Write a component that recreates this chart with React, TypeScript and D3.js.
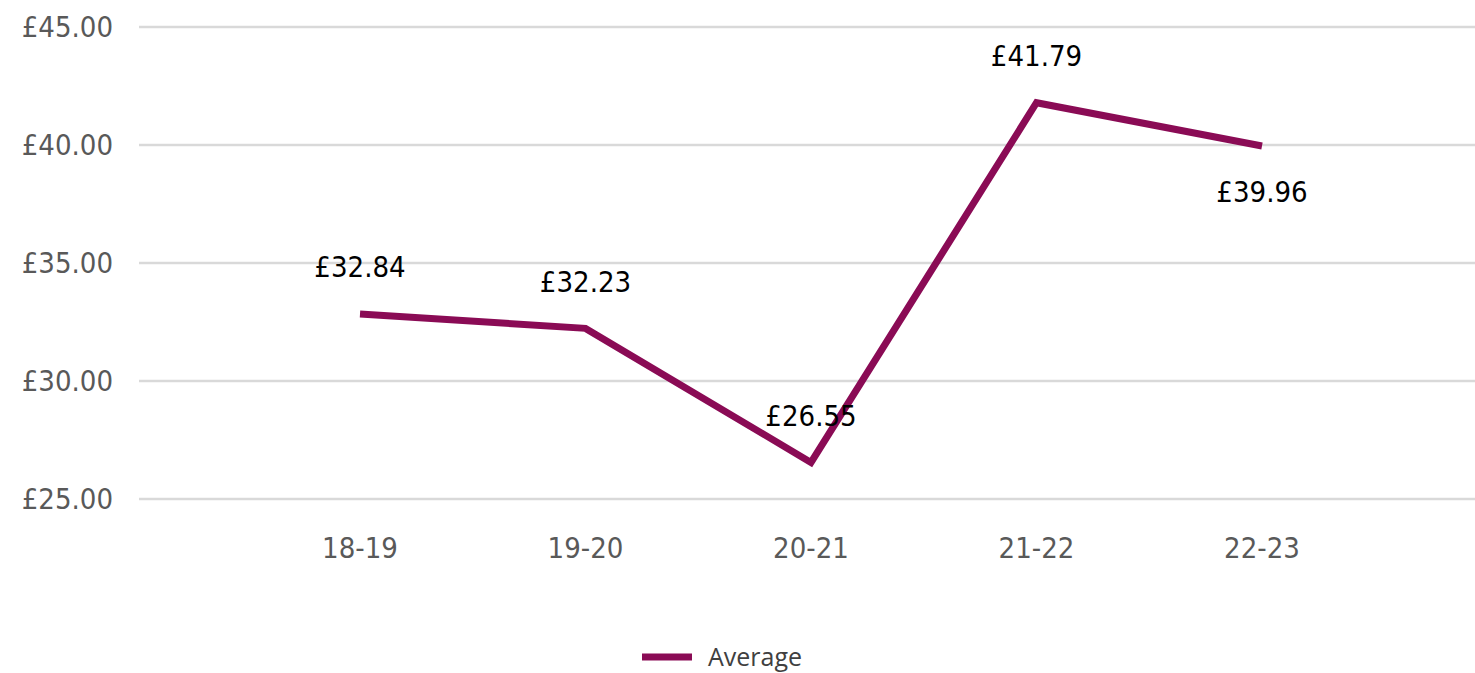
import React from "react";
import * as d3 from "d3";

const categories = ["18-19", "19-20", "20-21", "21-22", "22-23"];
const averageValues = [32.84, 32.23, 26.55, 41.79, 39.96];
const labelBelow = [false, false, false, false, true];
const yTicks = [25, 30, 35, 40, 45];
const seriesName = "Average";

const W = 1475;
const H = 673;
const LINE_COLOR = "#8a0b55";
const FONT = "'DejaVu Sans', sans-serif";

export default function App() {
  const x = d3.scalePoint<string>().domain(categories).range([360, 1262]);
  const y = d3.scaleLinear().domain([25, 45]).range([499, 27]);
  const line = d3
    .line<number>()
    .x((_, i) => x(categories[i]) as number)
    .y((d) => y(d));
  const fmt = (v: number) => "£" + v.toFixed(2);
  const txt = { fontFamily: FONT, fontStretch: "condensed" as const };

  return (
    <svg
      width={W}
      height={H}
      style={{ position: "absolute", left: 0, top: 0, background: "#fff" }}
    >
      {yTicks.map((t) => (
        <g key={t}>
          <line x1={139} x2={W} y1={y(t)} y2={y(t)} stroke="#d9d9d9" strokeWidth={2.5} />
          <text
            x={113}
            y={y(t)}
            dy="0.36em"
            textAnchor="end"
            style={txt}
            fontSize={29}
            fill="#595959"
          >
            {fmt(t)}
          </text>
        </g>
      ))}
      {categories.map((c) => (
        <text
          key={c}
          x={x(c)}
          y={548}
          dy="0.36em"
          textAnchor="middle"
          style={txt}
          fontSize={29}
          fill="#595959"
        >
          {c}
        </text>
      ))}
      <path
        d={line(averageValues) || ""}
        fill="none"
        stroke={LINE_COLOR}
        strokeWidth={7}
        strokeLinejoin="miter"
        strokeLinecap="butt"
      />
      {averageValues.map((v, i) => (
        <text
          key={i}
          x={x(categories[i])}
          y={y(v) + (labelBelow[i] ? 46 : -47)}
          dy="0.36em"
          textAnchor="middle"
          style={txt}
          fontSize={29}
          fill="#000"
        >
          {fmt(v)}
        </text>
      ))}
      <line x1={642} x2={692} y1={657} y2={657} stroke={LINE_COLOR} strokeWidth={7} />
      <text
        x={708}
        y={657}
        dy="0.36em"
        fontFamily="'Open Sans', sans-serif"
        fontSize={25}
        fill="#404040"
      >
        {seriesName}
      </text>
    </svg>
  );
}
